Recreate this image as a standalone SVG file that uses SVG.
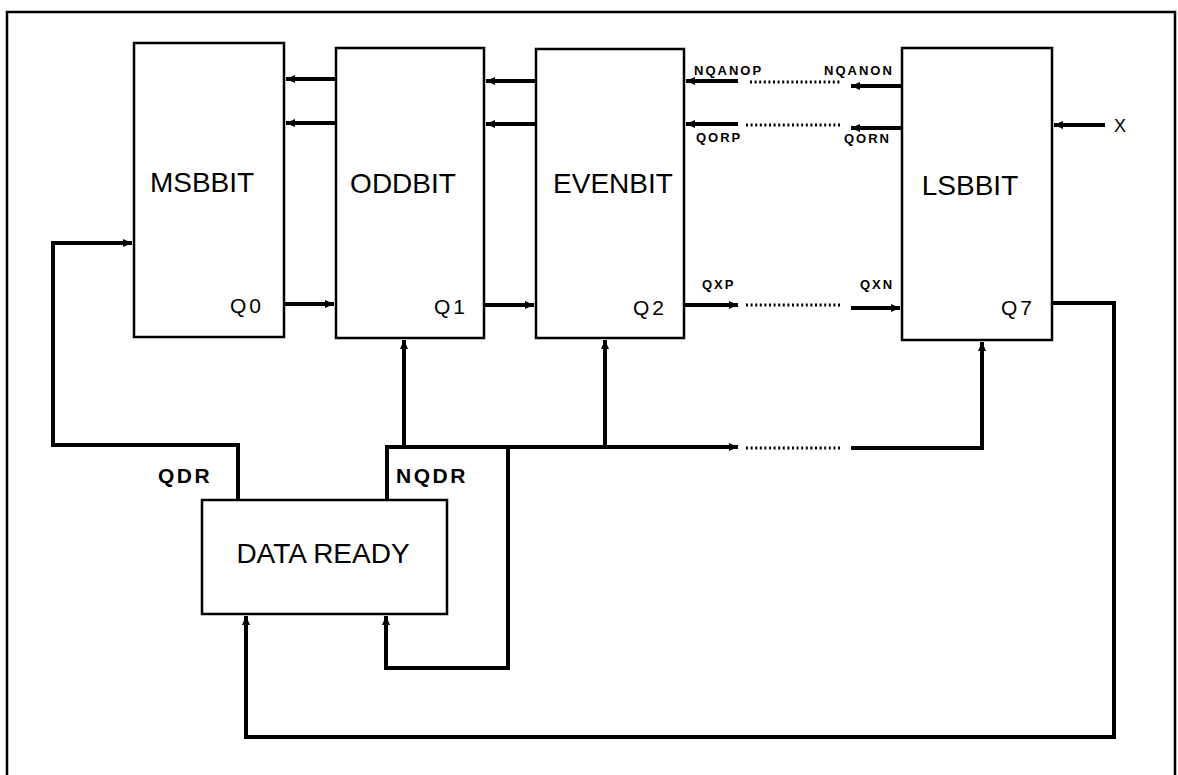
<svg xmlns="http://www.w3.org/2000/svg" width="1178" height="775" viewBox="0 0 1178 775">
<style>
.box{fill:#fff;stroke:#000;stroke-width:2.5}
.w{fill:none;stroke:#000;stroke-width:4;stroke-linejoin:miter;stroke-linecap:butt}
.dot{fill:none;stroke:#000;stroke-width:3;stroke-dasharray:2 2.6}
.big{font-family:"Liberation Sans",Arial,sans-serif;font-size:28px;fill:#000}
.q{font-family:"Liberation Sans",Arial,sans-serif;font-size:21px;fill:#000;letter-spacing:3px}
.lb{font-family:"Liberation Sans",Arial,sans-serif;font-size:21px;font-weight:bold;fill:#000;letter-spacing:2.5px}
.sm{font-family:"Liberation Sans",Arial,sans-serif;font-size:13px;font-weight:bold;fill:#000;letter-spacing:2px}
</style>
<defs>
<marker id="ah" markerUnits="userSpaceOnUse" markerWidth="9" markerHeight="8" refX="9" refY="4" orient="auto">
<path d="M0,0 L9,4 L0,8 z" fill="#000"/>
</marker>
</defs>
<path d="M7,775 L7,12 L1175,12 L1175,775" fill="none" stroke="#000" stroke-width="2.5"/>
<g id="connectors">
<path class="w" d="M336,79 H286" marker-end="url(#ah)"/>
<path class="w" d="M336,123 H286" marker-end="url(#ah)"/>
<path class="w" d="M284,304 H334" marker-end="url(#ah)"/>
<path class="w" d="M536,81 H486" marker-end="url(#ah)"/>
<path class="w" d="M536,124 H486" marker-end="url(#ah)"/>
<path class="w" d="M484,305 H534" marker-end="url(#ah)"/>
<path class="w" d="M738,81 H686" marker-end="url(#ah)"/>
<path class="dot" d="M750,82 H841"/>
<path class="w" d="M902,86 H851" marker-end="url(#ah)"/>
<path class="w" d="M738,124 H686" marker-end="url(#ah)"/>
<path class="dot" d="M746,125 H841"/>
<path class="w" d="M902,128 H851" marker-end="url(#ah)"/>
<path class="w" d="M1105,125 H1054" marker-end="url(#ah)"/>
<path class="w" d="M684,305 H738" marker-end="url(#ah)"/>
<path class="dot" d="M746,305 H841"/>
<path class="w" d="M851,308 H900" marker-end="url(#ah)"/>
<path class="w" d="M1052,303 H1114 V737 H246 V616" marker-end="url(#ah)"/>
<path class="w" d="M238,500 V445 H53 V243 H132" marker-end="url(#ah)"/>
<path class="w" d="M387,500 V447 H738" marker-end="url(#ah)"/>
<path class="dot" d="M746,448 H841"/>
<path class="w" d="M851,448 H982 V342" marker-end="url(#ah)"/>
<path class="w" d="M404,447 V340" marker-end="url(#ah)"/>
<path class="w" d="M605,447 V340" marker-end="url(#ah)"/>
<path class="w" d="M508,447 V668 H386 V616" marker-end="url(#ah)"/>
</g>
<g id="msbbit">
<rect class="box" x="134" y="43" width="150" height="294"/>
<text class="big" x="202" y="192" text-anchor="middle">MSBBIT</text>
<text class="q" x="230" y="313">Q0</text>
</g>
<g id="oddbit">
<rect class="box" x="336" y="48" width="148" height="290"/>
<text class="big" x="403" y="193" text-anchor="middle">ODDBIT</text>
<text class="q" x="434" y="314">Q1</text>
</g>
<g id="evenbit">
<rect class="box" x="536" y="49" width="148" height="289"/>
<text class="big" x="613" y="193" text-anchor="middle">EVENBIT</text>
<text class="q" x="633" y="315">Q2</text>
</g>
<g id="lsbbit">
<rect class="box" x="902" y="48" width="150" height="292"/>
<text class="big" x="970" y="195" text-anchor="middle">LSBBIT</text>
<text class="q" x="1001" y="315">Q7</text>
</g>
<g id="dataready">
<rect class="box" x="202" y="500" width="245" height="114"/>
<text class="big" x="323" y="563" text-anchor="middle" font-size="27px">DATA READY</text>
</g>
<g id="labels">
<text class="lb" x="158" y="483">QDR</text>
<text class="lb" x="396" y="483">NQDR</text>
<text class="sm" x="694" y="75">NQANOP</text>
<text class="sm" x="824" y="75">NQANON</text>
<text class="sm" x="696" y="142">QORP</text>
<text class="sm" x="844" y="143">QORN</text>
<text class="sm" x="702" y="289">QXP</text>
<text class="sm" x="860" y="289">QXN</text>
<text x="1114" y="132" font-family="Liberation Sans, Arial, sans-serif" font-size="18px">X</text>
</g>
</svg>
